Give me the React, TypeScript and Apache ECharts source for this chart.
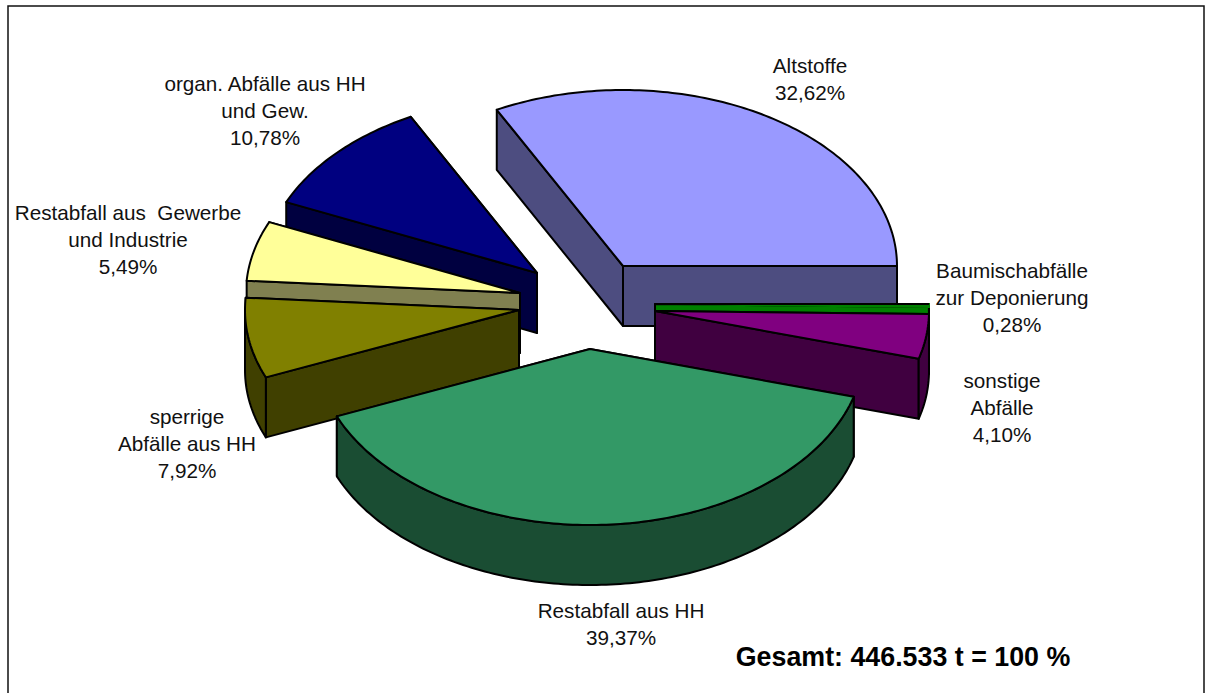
import React, { useEffect, useRef } from "react";
import * as echarts from "echarts";

// Chart data, clockwise from 3 o'clock going back to the Altstoffe start edge
const categories = [
  "Altstoffe",
  "Baumischabfälle zur Deponierung",
  "sonstige Abfälle",
  "Restabfall aus HH",
  "sperrige Abfälle aus HH",
  "Restabfall aus Gewerbe und Industrie",
  "organ. Abfälle aus HH und Gew.",
];
// Slice shares as measured on the drawn pie
const sliceShares = [32.62, 0.28, 4.1, 39.37, 7.36, 5.49, 10.78];
const percentLabels = ["32,62%", "0,28%", "4,10%", "39,37%", "7,92%", "5,49%", "10,78%"];

// Styling and layout
const topColors = ["#9999FF", "#008000", "#800080", "#339966", "#808000", "#FFFF99", "#000080"];
const sideColors = ["#4D4D80", "#008000", "#400040", "#1A4D33", "#404000", "#808050", "#000040"];
const apexes = [
  [623, 266],
  [655, 304],
  [655, 311],
  [590, 349],
  [519, 310],
  [520, 293],
  [537, 273],
];
const paintOrder = [0, 6, 5, 4, 1, 2, 3];
const RX = 274;
const RY = 176;
const DEPTH = 60;
const START_ANGLE = (sliceShares[0] / 100) * 360;

const labelLines = [
  { lines: ["Altstoffe"], x: 810, y: 65 },
  { lines: ["Baumischabfälle", "zur Deponierung"], x: 1012, y: 270 },
  { lines: ["sonstige", "Abfälle"], x: 1002, y: 380 },
  { lines: ["Restabfall aus HH"], x: 621, y: 610 },
  { lines: ["sperrige", "Abfälle aus HH"], x: 187, y: 416 },
  { lines: ["Restabfall aus  Gewerbe", "und Industrie"], x: 128, y: 212 },
  { lines: ["organ. Abfälle aus HH", "und Gew."], x: 265, y: 83 },
];

const FONT = "'Liberation Sans', Arial, sans-serif";
const LINE_STEP = 27;
const EDGE = 2;

function sliceAngles(index: number) {
  let from = START_ANGLE;
  for (let i = 0; i < index; i++) from -= (sliceShares[i] / 100) * 360;
  return [from, from - (sliceShares[index] / 100) * 360];
}

function rimPoint(cx: number, cy: number, deg: number): number[] {
  const r = (deg * Math.PI) / 180;
  return [cx + RX * Math.cos(r), cy - RY * Math.sin(r)];
}

function arcPoints(cx: number, cy: number, from: number, to: number): number[][] {
  const n = Math.max(2, Math.ceil(Math.abs(from - to)));
  const pts: number[][] = [];
  for (let i = 0; i <= n; i++) pts.push(rimPoint(cx, cy, from + ((to - from) * i) / n));
  return pts;
}

function renderSlice(params: any) {
  const idx = paintOrder[params.dataIndex];
  const [a1, a2] = sliceAngles(idx);
  const [cx, cy] = apexes[idx];
  const stroke = { stroke: "#000", lineWidth: EDGE, lineJoin: "round" };
  const side = { ...stroke, fill: sideColors[idx] };
  const children: any[] = [];

  // cut faces, the one further back first
  const face = (deg: number) => {
    const p = rimPoint(cx, cy, deg);
    return {
      type: "polygon",
      shape: { points: [[cx, cy], p, [p[0], p[1] + DEPTH], [cx, cy + DEPTH]] },
      style: side,
    };
  };
  const e1 = rimPoint(cx, cy, a1);
  const e2 = rimPoint(cx, cy, a2);
  if (e1[1] < e2[1]) children.push(face(a1), face(a2));
  else children.push(face(a2), face(a1));

  // outer rim: only the part of the arc in the front half (angle between -180 and 0)
  const hi = Math.min(a1, 0);
  const lo = Math.max(a2, -180);
  if (hi > lo) {
    const top = arcPoints(cx, cy, hi, lo);
    const bottom = top.map((p) => [p[0], p[1] + DEPTH]).reverse();
    children.push({ type: "polygon", shape: { points: [...top, ...bottom] }, style: side });
  }

  // upper surface
  const topPts = [[cx, cy], ...arcPoints(cx, cy, a1, a2)];
  const thin = sliceShares[idx] < 1;
  children.push({
    type: "polygon",
    shape: { points: topPts },
    style: thin
      ? { fill: topColors[idx], stroke: topColors[idx], lineWidth: EDGE }
      : { ...stroke, fill: topColors[idx] },
  });
  if (thin) {
    children.push({
      type: "polyline",
      shape: { points: [[cx, cy], e1] },
      style: { stroke: "#000", lineWidth: EDGE, fill: null },
    });
  }
  return { type: "group", children };
}

export default function App() {
  const ref = useRef<HTMLDivElement>(null);
  useEffect(() => {
    const chart = echarts.init(ref.current!, null, { renderer: "svg" });
    const texts: any[] = [];
    labelLines.forEach((l, i) => {
      [...l.lines, percentLabels[i]].forEach((t, j) => {
        texts.push({
          type: "text",
          x: l.x,
          y: l.y + j * LINE_STEP,
          silent: true,
          style: {
            text: t,
            fill: "#111",
            font: `20.7px ${FONT}`,
            textAlign: "center",
            textVerticalAlign: "middle",
          },
        });
      });
    });
    chart.setOption({
      animation: false,
      backgroundColor: "#fff",
      graphic: [
        {
          type: "rect",
          shape: { x: 8, y: 6, width: 1196, height: 700 },
          style: { fill: "none", stroke: "#111", lineWidth: 1.5 },
          silent: true,
          z: 0,
        },
        ...texts,
        {
          type: "text",
          x: 903,
          y: 657,
          silent: true,
          style: {
            text: "Gesamt: 446.533 t = 100 %",
            fill: "#000",
            font: `bold 26.8px ${FONT}`,
            textAlign: "center",
            textVerticalAlign: "middle",
          },
        },
      ],
      series: [
        {
          type: "custom",
          coordinateSystem: "none",
          clip: false,
          silent: true,
          z: 2,
          renderItem: renderSlice,
          data: paintOrder.map((i) => ({ name: categories[i], value: [sliceShares[i]] })),
        },
      ],
    });
    return () => chart.dispose();
  }, []);
  return (
    <div
      ref={ref}
      style={{ position: "absolute", left: 0, top: 0, width: 1207, height: 693, background: "#fff" }}
    />
  );
}
